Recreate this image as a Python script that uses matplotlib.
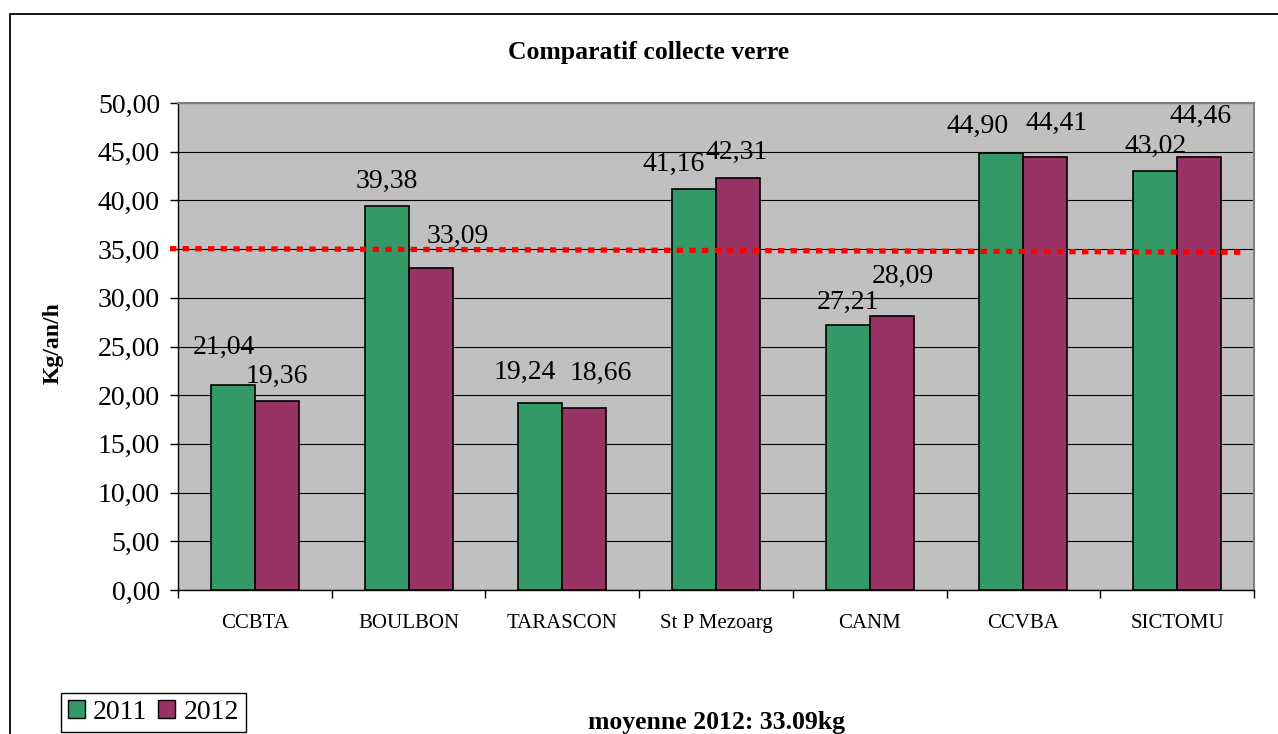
import matplotlib.pyplot as plt
import numpy as np
from matplotlib.patches import Rectangle, Patch
from matplotlib.ticker import FixedLocator, FuncFormatter

plt.rcParams["font.family"] = ["Liberation Serif", "DejaVu Serif"]

# data
categories = ["CCBTA", "BOULBON", "TARASCON", "St P Mezoarg", "CANM", "CCVBA", "SICTOMU"]
vals_2011 = [21.04, 39.38, 19.24, 41.16, 27.21, 44.90, 43.02]
vals_2012 = [19.36, 33.09, 18.66, 42.31, 28.09, 44.41, 44.46]
series_names = ["2011", "2012"]
avg_line = [35.05, 34.68]  # hand-drawn red dotted line, left/right ends

# label nudges (pixels) relative to bar top, as placed in the original
dx_2011 = [-9, 0, -16, -20, 0, -24, 0]
dy_2011 = [38, 25, 30, 25, 23, 26, 25]
dx_2012 = [0, 27, 17, -1, 11, 11, 1]
dy_2012 = [25, 31, 35, 25, 40, 34, 41]

green = "#339966"
purple = "#993366"

fig = plt.figure(figsize=(12.78, 7.34), dpi=100)
W, H = 1278, 734
ax = fig.add_axes([178 / W, 1 - 590 / H, (1254 - 178) / W, (590 - 103) / H])
ax.set_facecolor("#C0C0C0")

x = np.arange(len(categories))
bw = 0.286
b1 = ax.bar(x - bw / 2, vals_2011, bw, color=green, edgecolor="black", linewidth=1.2, zorder=3)
b2 = ax.bar(x + bw / 2, vals_2012, bw, color=purple, edgecolor="black", linewidth=1.2, zorder=3)

def fmt(v):
    return f"{v:.2f}".replace(".", ",")

for bars, vals, dxs, dys in [(b1, vals_2011, dx_2011, dy_2011), (b2, vals_2012, dx_2012, dy_2012)]:
    for rect, v, dx, dy in zip(bars, vals, dxs, dys):
        ax.annotate(fmt(v), (rect.get_x() + rect.get_width() / 2, v),
                    xytext=(dx, dy), textcoords="offset pixels",
                    ha="center", va="center", fontsize=20, zorder=5)

# red dotted "average" line
ax.plot([-0.552, 6.435], avg_line, color="#FF0000", linewidth=3.8,
        linestyle=(0, (1.2, 1.2)), dash_capstyle="butt", clip_on=False, zorder=4)

ax.set_xlim(-0.5, 6.5)
ax.set_ylim(0, 50)
ax.set_yticks(np.arange(0, 51, 5))
ax.yaxis.set_major_formatter(FuncFormatter(lambda v, p: fmt(v)))
ax.yaxis.grid(True, color="black", linewidth=0.8, zorder=1)
ax.set_axisbelow(True)

ax.set_xticks(x)
ax.set_xticklabels(categories, fontsize=15)
ax.xaxis.set_minor_locator(FixedLocator(np.arange(-0.5, 7, 1)))
ax.tick_params(axis="x", which="major", length=0, pad=17)
ax.tick_params(axis="x", which="minor", length=6, width=1)
ax.tick_params(axis="y", length=6, width=1, pad=7, labelsize=20)

for s in ["top", "right"]:
    ax.spines[s].set_color("#808080")
    ax.spines[s].set_linewidth(1.5)
for s in ["left", "bottom"]:
    ax.spines[s].set_color("black")
    ax.spines[s].set_linewidth(1)

ax.set_ylabel("Kg/an/h", fontsize=17, fontweight="bold")
ax.yaxis.set_label_coords((64 - 178) / 1076, (590 - 343) / 487)

fig.text(649 / W, 1 - 52 / H, "Comparatif collecte verre", ha="center", va="center",
         fontsize=18.5, fontweight="bold")
fig.text(716 / W, 1 - 722 / H, "moyenne 2012: 33.09kg", ha="center", va="center",
         fontsize=18.5, fontweight="bold")

# outer chart border (cut at right and bottom)
fig.patches.append(Rectangle((10 / W, -0.05), 1.2, 1 - 14 / H + 0.05, transform=fig.transFigure,
                             fill=False, edgecolor="black", linewidth=1.3))

handles = [Patch(facecolor=green, edgecolor="black", linewidth=1),
           Patch(facecolor=purple, edgecolor="black", linewidth=1)]
fig.legend(handles, series_names, loc="lower left", bbox_to_anchor=(61 / W, 1 - 732 / H),
           ncol=2, fontsize=20, frameon=True, fancybox=False, edgecolor="black",
           framealpha=1, handlelength=0.6, handleheight=0.6, handletextpad=0.3,
           columnspacing=0.4, borderpad=0.25, borderaxespad=0)

fig.savefig("out.png", dpi=100)
